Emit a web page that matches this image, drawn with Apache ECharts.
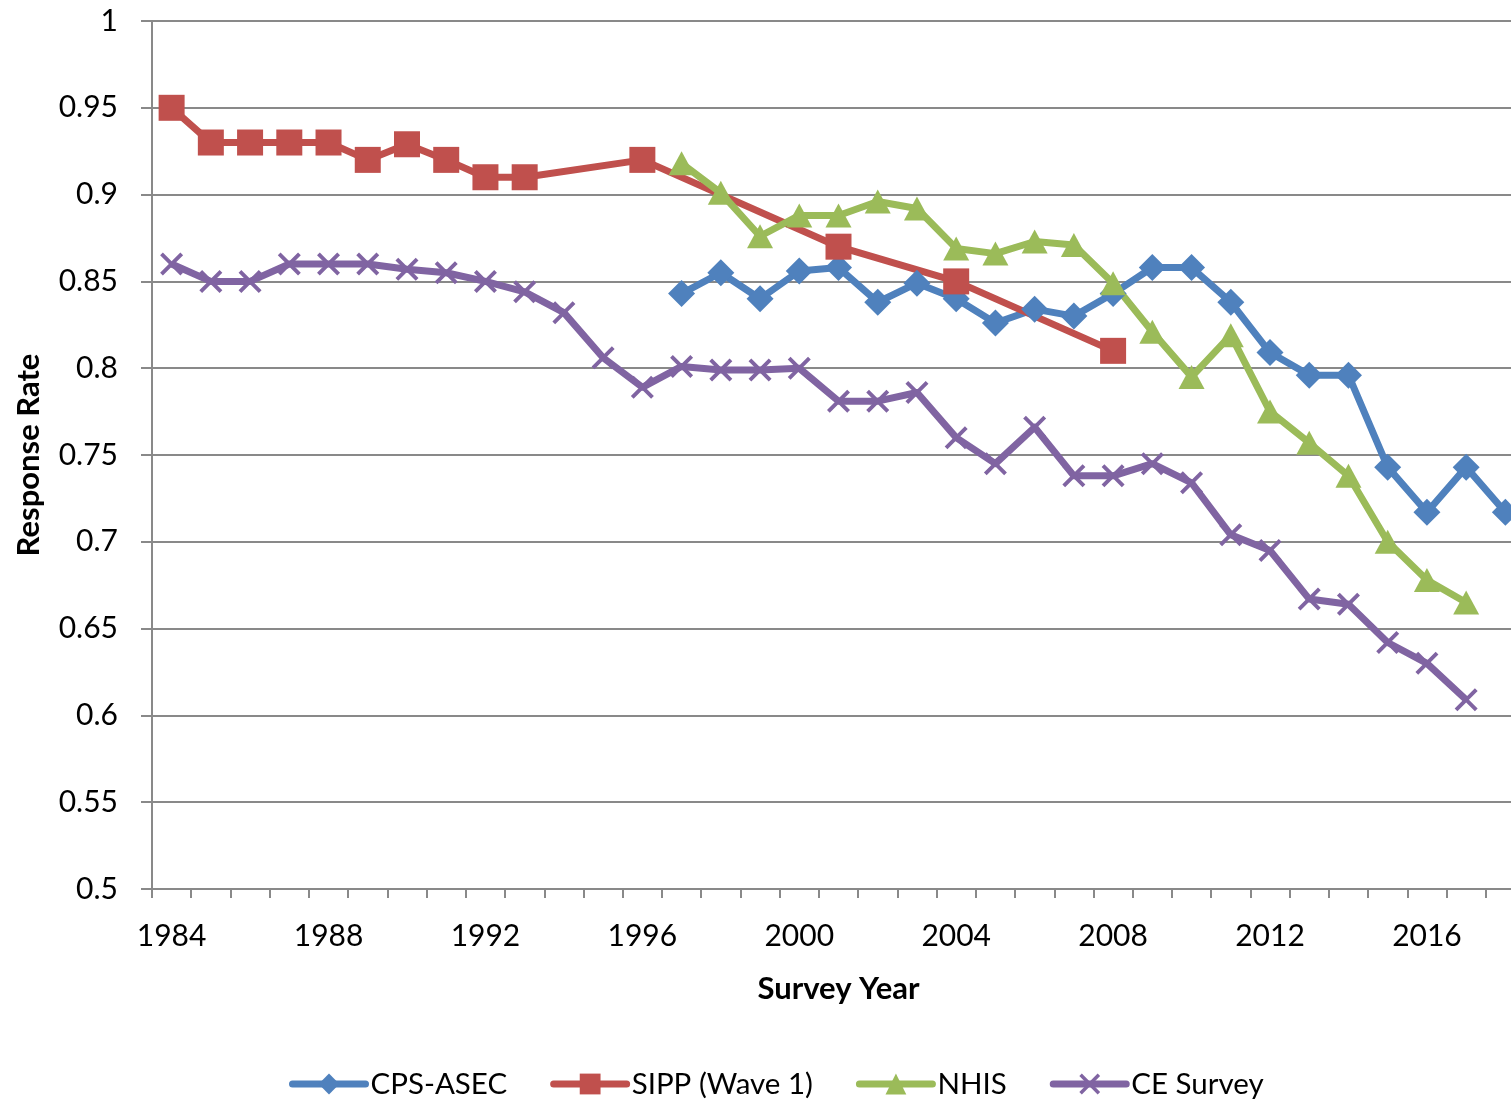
<!DOCTYPE html>
<html>
<head>
<meta charset="utf-8">
<script src="https://cdn.jsdelivr.net/npm/echarts@6/dist/echarts.min.js"></script>
<style>
html,body{margin:0;padding:0;background:#fff;}
#chart{width:1511px;height:1099px;}
</style>
</head>
<body>
<div id="chart"></div>
<script>
const years = ['1984','1985','1986','1987','1988','1989','1990','1991','1992','1993','1994','1995','1996','1997','1998','1999','2000','2001','2002','2003','2004','2005','2006','2007','2008','2009','2010','2011','2012','2013','2014','2015','2016','2017','2018'];
const yTicks = [0.5,0.55,0.6,0.65,0.7,0.75,0.8,0.85,0.9,0.95,1];

const cpsAsec = [null,null,null,null,null,null,null,null,null,null,null,null,null,
  0.843,0.855,0.840,0.856,0.858,0.838,0.849,0.840,0.826,0.834,0.830,0.843,0.858,0.858,0.838,0.809,0.796,0.796,0.743,0.717,0.743,0.717];
const sipp = [0.95,0.93,0.93,0.93,0.93,0.92,0.929,0.92,0.91,0.91,null,null,0.92,
  null,null,null,null,0.87,null,null,0.85,null,null,null,0.81,null,null,null,null,null,null,null,null,null,null];
const nhis = [null,null,null,null,null,null,null,null,null,null,null,null,null,
  0.918,0.901,0.876,0.888,0.888,0.896,0.892,0.869,0.866,0.873,0.871,0.849,0.821,0.795,0.819,0.775,0.757,0.738,0.700,0.678,0.665,null];
const ceSurvey = [0.86,0.85,0.85,0.86,0.86,0.86,0.857,0.855,0.85,0.844,0.832,0.806,0.789,0.801,0.799,0.799,0.800,0.781,0.781,0.786,
  0.760,0.745,0.766,0.738,0.738,0.745,0.734,0.704,0.695,0.667,0.664,0.642,0.630,0.609,null];

const FONT = 'Lato';
const GRAY = '#898989';
const xSymbol = 'path://M1.2,0 L5,3.8 L8.8,0 L10,1.2 L6.2,5 L10,8.8 L8.8,10 L5,6.2 L1.2,10 L0,8.8 L3.8,5 L0,1.2 Z';

const chart = echarts.init(document.getElementById('chart'), null, {renderer:'canvas'});
function mk(name, data, color, symbol, size){
  return {
    name: name, type:'line', data: data, connectNulls:true,
    symbol: symbol, symbolSize: size, showAllSymbol:true,
    lineStyle:{color: color, width: 7, join:'round'},
    itemStyle:{color: color}
  };
}
chart.setOption({
  animation:false,
  backgroundColor:'#ffffff',
  grid:{left:152, top:21, height:868, width:1373, outerBoundsMode:'none'},
  legend:{
    top:1064, left:284,
    itemWidth:73, itemHeight:26, itemGap:43,
    lineStyle:{width:7, cap:'round'},
    textStyle:{fontFamily:FONT, fontSize:29.5, color:'#000', padding:[0,0,0,0]},
    data:['CPS-ASEC','SIPP (Wave 1)','NHIS','CE Survey']
  },
  xAxis:{
    type:'category', data:years, boundaryGap:true,
    name:'Survey Year', nameLocation:'middle', nameGap:84,
    nameTextStyle:{fontFamily:FONT, fontWeight:'bold', fontSize:31, color:'#000'},
    axisLine:{lineStyle:{color:GRAY, width:2}},
    axisTick:{show:true, interval:0, length:9, lineStyle:{color:GRAY, width:2}},
    axisLabel:{interval:3, margin:32, fontFamily:FONT, fontSize:30, color:'#000'},
    splitLine:{show:false}
  },
  yAxis:{
    type:'value', min:0.5, max:1, interval:0.05,
    name:'Response Rate', nameLocation:'middle', nameGap:108, nameRotate:90,
    nameTextStyle:{fontFamily:FONT, fontWeight:'bold', fontSize:31, color:'#000'},
    axisLine:{show:true, lineStyle:{color:GRAY, width:2}},
    axisTick:{show:true, length:11, lineStyle:{color:GRAY, width:2}},
    axisLabel:{margin:34, fontFamily:FONT, fontSize:30, color:'#000',
      formatter:function(v){ const t=yTicks.find(k=>Math.abs(k-v)<1e-9); return String(t!==undefined?t:+v.toFixed(2)); }},
    splitLine:{show:true, lineStyle:{color:GRAY, width:2}}
  },
  series:[
    mk('CPS-ASEC', cpsAsec, '#4f81bd', 'diamond', 27),
    mk('SIPP (Wave 1)', sipp, '#c0504d', 'rect', 26),
    mk('NHIS', nhis, '#9bbb59', 'triangle', [26,24]),
    mk('CE Survey', ceSurvey, '#8064a2', xSymbol, 23)
  ]
});
</script>
</body>
</html>
